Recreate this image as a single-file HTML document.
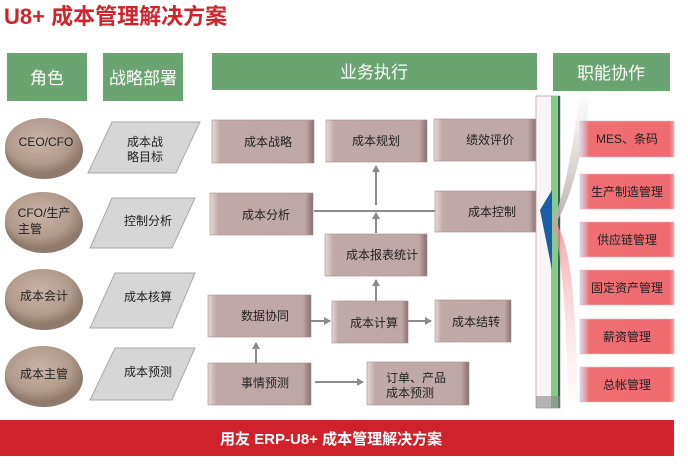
<!DOCTYPE html>
<html><head><meta charset="utf-8"><style>
html,body{margin:0;padding:0;background:#fff;}
svg text{font-family:"Liberation Sans","Noto Sans CJK SC",sans-serif;}
</style></head><body>
<svg width="688" height="468" viewBox="0 0 688 468" xmlns="http://www.w3.org/2000/svg">
<defs>
<radialGradient id="el" cx="45%" cy="40%" r="60%"><stop offset="0" stop-color="#c9b5a8"/><stop offset="0.7" stop-color="#b09a8c"/><stop offset="1" stop-color="#8f786a"/></radialGradient>
<linearGradient id="bx" x1="0" y1="0" x2="1" y2="0"><stop offset="0" stop-color="#e6dada"/><stop offset="0.08" stop-color="#c0aaa9"/><stop offset="0.92" stop-color="#bea8a7"/><stop offset="1" stop-color="#8a6f6f"/></linearGradient>
<linearGradient id="rb" x1="0" y1="0" x2="1" y2="0"><stop offset="0" stop-color="#d8dcf0"/><stop offset="0.1" stop-color="#ef6f73"/><stop offset="0.95" stop-color="#ef6b70"/><stop offset="1" stop-color="#f4a0a3"/></linearGradient>
<linearGradient id="fan" x1="0" y1="0" x2="0" y2="1"><stop offset="0" stop-color="#f08a90"/><stop offset="1" stop-color="#fde8ea" stop-opacity="0.3"/></linearGradient>
<linearGradient id="gw" x1="0" y1="0" x2="0" y2="1"><stop offset="0" stop-color="#ffffff"/><stop offset="1" stop-color="#b8aaaa"/></linearGradient>
<marker id="ar" markerWidth="8" markerHeight="8" refX="6" refY="4" orient="auto" markerUnits="userSpaceOnUse"><path d="M0,0 L7,4 L0,8 z" fill="#8c8c8c"/></marker>
</defs>
<text x="4" y="24" font-size="22" font-weight="bold" fill="#d0242c">U8+ 成本管理解决方案</text>
<g fill="#6aa471">
<rect x="7" y="53" width="80" height="48"/><rect x="103" y="53" width="80" height="48"/>
<rect x="212" y="53" width="325" height="37"/><rect x="553" y="53" width="117" height="38"/>
</g>
<g fill="#fff" font-size="17" text-anchor="middle">
<text x="47" y="84">角色</text><text x="143" y="84">战略部署</text>
<text x="374" y="78">业务执行</text><text x="611" y="79">职能协作</text>
</g>
<g>
<ellipse cx="44" cy="150" rx="39" ry="29" fill="#8f7b6e"/><ellipse cx="43" cy="146" rx="38" ry="28" fill="url(#el)"/>
<ellipse cx="44" cy="224" rx="39" ry="29" fill="#8f7b6e"/><ellipse cx="43" cy="220" rx="38" ry="28" fill="url(#el)"/>
<ellipse cx="44" cy="301" rx="39" ry="29" fill="#8f7b6e"/><ellipse cx="43" cy="297" rx="38" ry="28" fill="url(#el)"/>
<ellipse cx="44" cy="378" rx="39" ry="29" fill="#8f7b6e"/><ellipse cx="43" cy="374" rx="38" ry="28" fill="url(#el)"/>
</g>
<g font-size="12" fill="#222" text-anchor="middle">
<text x="46" y="146">CEO/CFO</text><text x="44" y="217">CFO/生产</text><text x="30" y="233">主管</text>
<text x="44" y="300">成本会计</text><text x="44" y="378">成本主管</text>
</g>
<g fill="#d5d6d5" stroke="#a8a9a8" stroke-width="1">
<polygon points="112,122 200,122 176,173 88,173"/>
<polygon points="112,198 195,198 172,248 90,248"/>
<polygon points="115,273 195,273 172,328 90,328"/>
<polygon points="115,348 195,348 172,400 90,400"/>
</g>
<g font-size="12" fill="#222" text-anchor="middle">
<text x="145" y="146">成本战</text><text x="145" y="161">略目标</text>
<text x="148" y="225">控制分析</text><text x="148" y="301">成本核算</text><text x="148" y="376">成本预测</text>
</g>
<g stroke="#8c8c8c" stroke-width="2" fill="none">
<line x1="314" y1="211" x2="435" y2="211"/>
<line x1="376" y1="233" x2="376" y2="213" marker-end="url(#ar)"/>
<line x1="376" y1="205" x2="376" y2="166" marker-end="url(#ar)"/>
<line x1="376" y1="301" x2="376" y2="280" marker-end="url(#ar)"/>
<line x1="311" y1="321" x2="330" y2="321" marker-end="url(#ar)"/>
<line x1="408" y1="321" x2="431" y2="321" marker-end="url(#ar)"/>
<line x1="256" y1="363" x2="256" y2="343" marker-end="url(#ar)"/>
<line x1="315" y1="382" x2="363" y2="382" marker-end="url(#ar)"/>
</g>
<g fill="url(#bx)" stroke="#a08c8c" stroke-width="0.6">
<rect x="212" y="120" width="102" height="43"/><rect x="326" y="120" width="101" height="42"/>
<rect x="434" y="119" width="102" height="42"/><rect x="210" y="193" width="103" height="42"/>
<rect x="435" y="191" width="102" height="41"/><rect x="325" y="234" width="102" height="42"/>
<rect x="208" y="295" width="103" height="42"/><rect x="332" y="301" width="76" height="42"/>
<rect x="435" y="300" width="76" height="42"/><rect x="208" y="363" width="103" height="42"/>
<rect x="367" y="362" width="102" height="43"/>
</g>
<g font-size="12" fill="#222" text-anchor="middle">
<text x="268" y="146">成本战略</text><text x="376" y="145">成本规划</text><text x="490" y="144">绩效评价</text>
<text x="266" y="219">成本分析</text><text x="492" y="216">成本控制</text><text x="382" y="259">成本报表统计</text>
<text x="265" y="320">数据协同</text><text x="374" y="327">成本计算</text><text x="476" y="326">成本结转</text>
<text x="265" y="387">事情预测</text><text x="416" y="382">订单、产品</text><text x="410" y="397">成本预测</text>
</g>
<rect x="536" y="96" width="24" height="312" fill="#f6f6f6" stroke="#c49aa8" stroke-width="0.8"/>
<rect x="551" y="96" width="8" height="312" fill="#88c990"/>
<rect x="558" y="96" width="2" height="312" fill="#2e6d44"/>
<rect x="536" y="396" width="24" height="12" fill="#888" opacity="0.6"/>
<path d="M553,218 C565,200 575,130 580,95 L590,95 C585,140 572,200 556,222 Z" fill="url(#gw)" opacity="0.9"/>
<path d="M553,218 C565,235 575,260 578,400 L568,400 C566,280 558,240 553,226 Z" fill="url(#fan)" opacity="0.8"/>
<polygon points="552,190 552,270 540,210" fill="#1a5fa6"/>
<g fill="url(#rb)" stroke="#e2c0c4" stroke-width="0.6">
<rect x="580" y="121" width="94" height="36"/><rect x="580" y="174" width="94" height="35"/>
<rect x="580" y="222" width="94" height="35"/><rect x="580" y="270" width="94" height="35"/>
<rect x="580" y="319" width="94" height="35"/><rect x="580" y="367" width="94" height="35"/>
</g>
<g font-size="12" fill="#222" text-anchor="middle">
<text x="627" y="143">MES、条码</text><text x="627" y="196">生产制造管理</text><text x="627" y="244">供应链管理</text>
<text x="627" y="292">固定资产管理</text><text x="627" y="341">薪资管理</text><text x="627" y="389">总帐管理</text>
</g>
<rect x="0" y="420" width="674" height="36" fill="#d0222a"/>
<text x="220" y="444" font-size="15" font-weight="bold" fill="#fff">用友 ERP-U8+ 成本管理解决方案</text>
</svg>
</body></html>
